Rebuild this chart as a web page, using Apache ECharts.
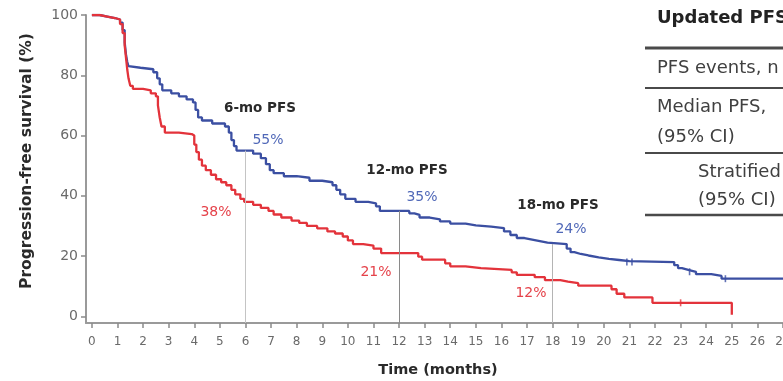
<!DOCTYPE html>
<html>
<head>
<meta charset="utf-8">
<script src="https://cdn.jsdelivr.net/npm/echarts@6/dist/echarts.min.js"></script>
<style>
  html, body { margin: 0; padding: 0; background: #fff; }
  #chart { width: 783px; height: 381px; }
</style>
</head>
<body>
<div id="chart"></div>
<script>
// Kaplan-Meier progression-free survival, [month, % progression-free]
const blueCurve = [
  [0, 100], [0.3, 99.5], [0.6, 99], [0.9, 98.5], [1.1, 97.5], [1.2, 95], [1.28, 91], [1.33, 87],
  [1.38, 84.5], [1.43, 83], [1.5, 82.5], [1.9, 82], [2.4, 81], [2.55, 79], [2.65, 77], [2.75, 75],
  [3.1, 74], [3.4, 73], [3.7, 72], [3.95, 71], [4.05, 68.5], [4.15, 66], [4.3, 65], [4.7, 64],
  [5.2, 63], [5.35, 61], [5.45, 58.5], [5.55, 56.5], [5.65, 55], [6.3, 54], [6.6, 52.5], [6.8, 50.5],
  [6.95, 48.5], [7.1, 47.5], [7.5, 46.5], [8.0, 46], [8.5, 45], [9.0, 44.5], [9.4, 43.5], [9.55, 42],
  [9.7, 40.5], [9.9, 39], [10.3, 38], [10.8, 37.5], [11.1, 36.5], [11.25, 35], [12.4, 34.2], [12.6, 33.7],
  [12.8, 32.8], [13.2, 32.2], [13.6, 31.5], [14.0, 30.8], [14.6, 30.2], [15.0, 29.8], [15.6, 29.3],
  [16.1, 28.2], [16.35, 27], [16.6, 26], [16.9, 25.5], [17.2, 25], [17.5, 24.5], [17.8, 24],
  [18.55, 22.5], [18.7, 21.3], [18.85, 20.7], [19.1, 20.2], [19.4, 19.6], [19.8, 19.1], [20.2, 18.7],
  [20.6, 18.3], [21.0, 18], [22.75, 17], [22.9, 16], [23.05, 15.4], [23.3, 14.8], [23.6, 14],
  [24.2, 13.4], [24.6, 12.5], [27, 12.5]
];
const redCurve = [
  [0, 100], [0.3, 99.5], [0.6, 99], [0.9, 98.5], [1.1, 97], [1.2, 94], [1.28, 90], [1.33, 86],
  [1.38, 82], [1.43, 79], [1.5, 76.5], [1.6, 75.5], [2.0, 75], [2.3, 74], [2.5, 73], [2.58, 70],
  [2.65, 66], [2.72, 63], [2.85, 61], [3.4, 60.5], [3.9, 60], [4.0, 57], [4.08, 54.5], [4.18, 52],
  [4.3, 50], [4.45, 48.5], [4.65, 47], [4.85, 45.5], [5.05, 44.5], [5.25, 43.5], [5.45, 42],
  [5.6, 40.5], [5.8, 39], [5.95, 38], [6.3, 37], [6.6, 36], [6.9, 35], [7.1, 33.8], [7.4, 32.8],
  [7.8, 31.8], [8.1, 31], [8.4, 30], [8.8, 29.2], [9.2, 28.2], [9.5, 27.5], [9.8, 26.5], [10.0, 25.2],
  [10.2, 24], [10.6, 23.5], [11.0, 22.5], [11.3, 21], [12.75, 19.8], [12.9, 18.8], [13.8, 17.6],
  [14.0, 16.6], [14.6, 16], [15.2, 15.4], [16.4, 14.6], [16.6, 13.8], [17.3, 13], [17.7, 12],
  [18.3, 11.5], [18.6, 11], [19.0, 10.2], [20.3, 9], [20.5, 7.5], [20.8, 6.3], [21.9, 4.5], [25.0, 0.5]
];

// Censored observations (small vertical ticks on the curves)
const blueCensored = [[20.9, 18], [21.1, 18], [23.35, 14.8], [24.75, 12.5]];
const redCensored = [[23.0, 4.5]];

// Landmark months with the blue / red rates printed beside them
const landmarkMonths = [6, 12, 18];
const landmarkBlue = [55, 35, 24];
const landmarkRed = [38, 21, 12];

const monthTicks = Array.from({ length: 28 }, (_, i) => i);
const percentTicks = [0, 20, 40, 60, 80, 100];

const BLUE = '#3b4fa2';
const RED = '#e3333b';
const AXIS = '#9a9a9a';
const FONT = '"DejaVu Sans", sans-serif';

const chart = echarts.init(document.getElementById('chart'), null, { renderer: 'canvas' });

const guideColors = ['#c4c4c4', '#8a8a8a', '#b4b4b4'];
const guides = landmarkMonths.map((m, i) => [
  { coord: [m, landmarkBlue[i]], lineStyle: { color: guideColors[i], width: 1, type: 'solid' } },
  { coord: [m, -2.2] }
]);

// Annotation text near each landmark
const notes = [
  { text: '6-mo PFS', x: 260, y: 108, bold: true, color: '#2a2a2a' },
  { text: landmarkBlue[0] + '%', x: 268, y: 140, color: '#5068b8' },
  { text: landmarkRed[0] + '%', x: 216, y: 212, color: '#e5424a' },
  { text: '12-mo PFS', x: 407, y: 170, bold: true, color: '#2a2a2a' },
  { text: landmarkBlue[1] + '%', x: 422, y: 197, color: '#5068b8' },
  { text: landmarkRed[1] + '%', x: 376, y: 272, color: '#e5424a' },
  { text: '18-mo PFS', x: 558, y: 205, bold: true, color: '#2a2a2a' },
  { text: landmarkBlue[2] + '%', x: 571, y: 229, color: '#5068b8' },
  { text: landmarkRed[2] + '%', x: 531, y: 293, color: '#e5424a' }
];

const graphics = notes.map(n => ({
  type: 'text', x: n.x, y: n.y, silent: true,
  style: {
    text: n.text, fill: n.color, align: 'center', verticalAlign: 'middle',
    font: (n.bold ? 'bold 13.5px ' : '14px ') + FONT
  }
}));

// Axis titles
graphics.push({
  type: 'text', x: 27, y: 161, rotation: Math.PI / 2, silent: true,
  style: { text: 'Progression-free survival (%)', fill: '#2a2a2a', align: 'center', verticalAlign: 'middle',
           font: 'bold 15.5px ' + FONT }
});
graphics.push({
  type: 'text', x: 438, y: 370, silent: true,
  style: { text: 'Time (months)', fill: '#2a2a2a', align: 'center', verticalAlign: 'middle',
           font: 'bold 14.5px ' + FONT }
});

// Summary table at the upper right
const tableRules = [
  { y: 48, w: 3 }, { y: 88, w: 2 }, { y: 153, w: 2 }, { y: 215, w: 2.5 }
];
tableRules.forEach(r => graphics.push({
  type: 'line', silent: true,
  shape: { x1: 645, y1: r.y, x2: 783, y2: r.y },
  style: { stroke: '#4a4a4a', lineWidth: r.w }
}));
const tableText = [
  { text: 'Updated PFS', x: 657, y: 18, bold: true },
  { text: 'PFS events, n (%)', x: 657, y: 68 },
  { text: 'Median PFS,', x: 657, y: 107 },
  { text: '(95% CI)', x: 657, y: 137 },
  { text: 'Stratified HR', x: 698, y: 172 },
  { text: '(95% CI)', x: 698, y: 200 }
];
tableText.forEach(t => graphics.push({
  type: 'text', x: t.x, y: t.y, silent: true,
  style: { text: t.text, fill: t.bold ? '#222' : '#404040', align: 'left', verticalAlign: 'middle',
           font: (t.bold ? 'bold 18px ' : '18px ') + FONT }
}));

chart.setOption({
  animation: false,
  backgroundColor: '#fff',
  grid: { left: 86, right: 0, top: 15, bottom: 58, containLabel: false, outerBoundsMode: 'none' },
  xAxis: {
    type: 'value', min: -0.23, max: 27,
    axisLine: { show: true, onZero: false, lineStyle: { color: AXIS, width: 2 } },
    axisTick: { show: true, inside: false, customValues: monthTicks, length: 5, lineStyle: { color: '#8a8a8a', width: 1.5 } },
    axisLabel: { customValues: monthTicks, fontSize: 12, color: '#6a6a6a', margin: 13, fontFamily: FONT },
    splitLine: { show: false }
  },
  yAxis: {
    type: 'value', min: -2.2, max: 100,
    axisLine: { show: true, onZero: false, lineStyle: { color: AXIS, width: 2 } },
    axisTick: { show: true, inside: false, customValues: percentTicks, length: 5, lineStyle: { color: '#8a8a8a', width: 1.5 } },
    axisLabel: { customValues: percentTicks, fontSize: 14, color: '#6a6a6a', margin: 8, fontFamily: FONT },
    splitLine: { show: false }
  },
  series: [
    {
      name: 'Blue arm', type: 'line', step: 'end', data: blueCurve, showSymbol: false,
      lineStyle: { color: BLUE, width: 2.3 }, z: 3,
      markLine: { silent: true, symbol: 'none', label: { show: false }, data: guides }
    },
    {
      name: 'Red arm', type: 'line', step: 'end', data: redCurve, showSymbol: false,
      lineStyle: { color: RED, width: 2.3 }, z: 4
    },
    {
      name: 'Blue censored', type: 'scatter', data: blueCensored, symbol: 'rect',
      symbolSize: [1.6, 7], itemStyle: { color: BLUE }, z: 5, silent: true
    },
    {
      name: 'Red censored', type: 'scatter', data: redCensored, symbol: 'rect',
      symbolSize: [1.6, 7], itemStyle: { color: RED }, z: 5, silent: true
    }
  ],
  graphic: graphics
});
</script>
</body>
</html>
